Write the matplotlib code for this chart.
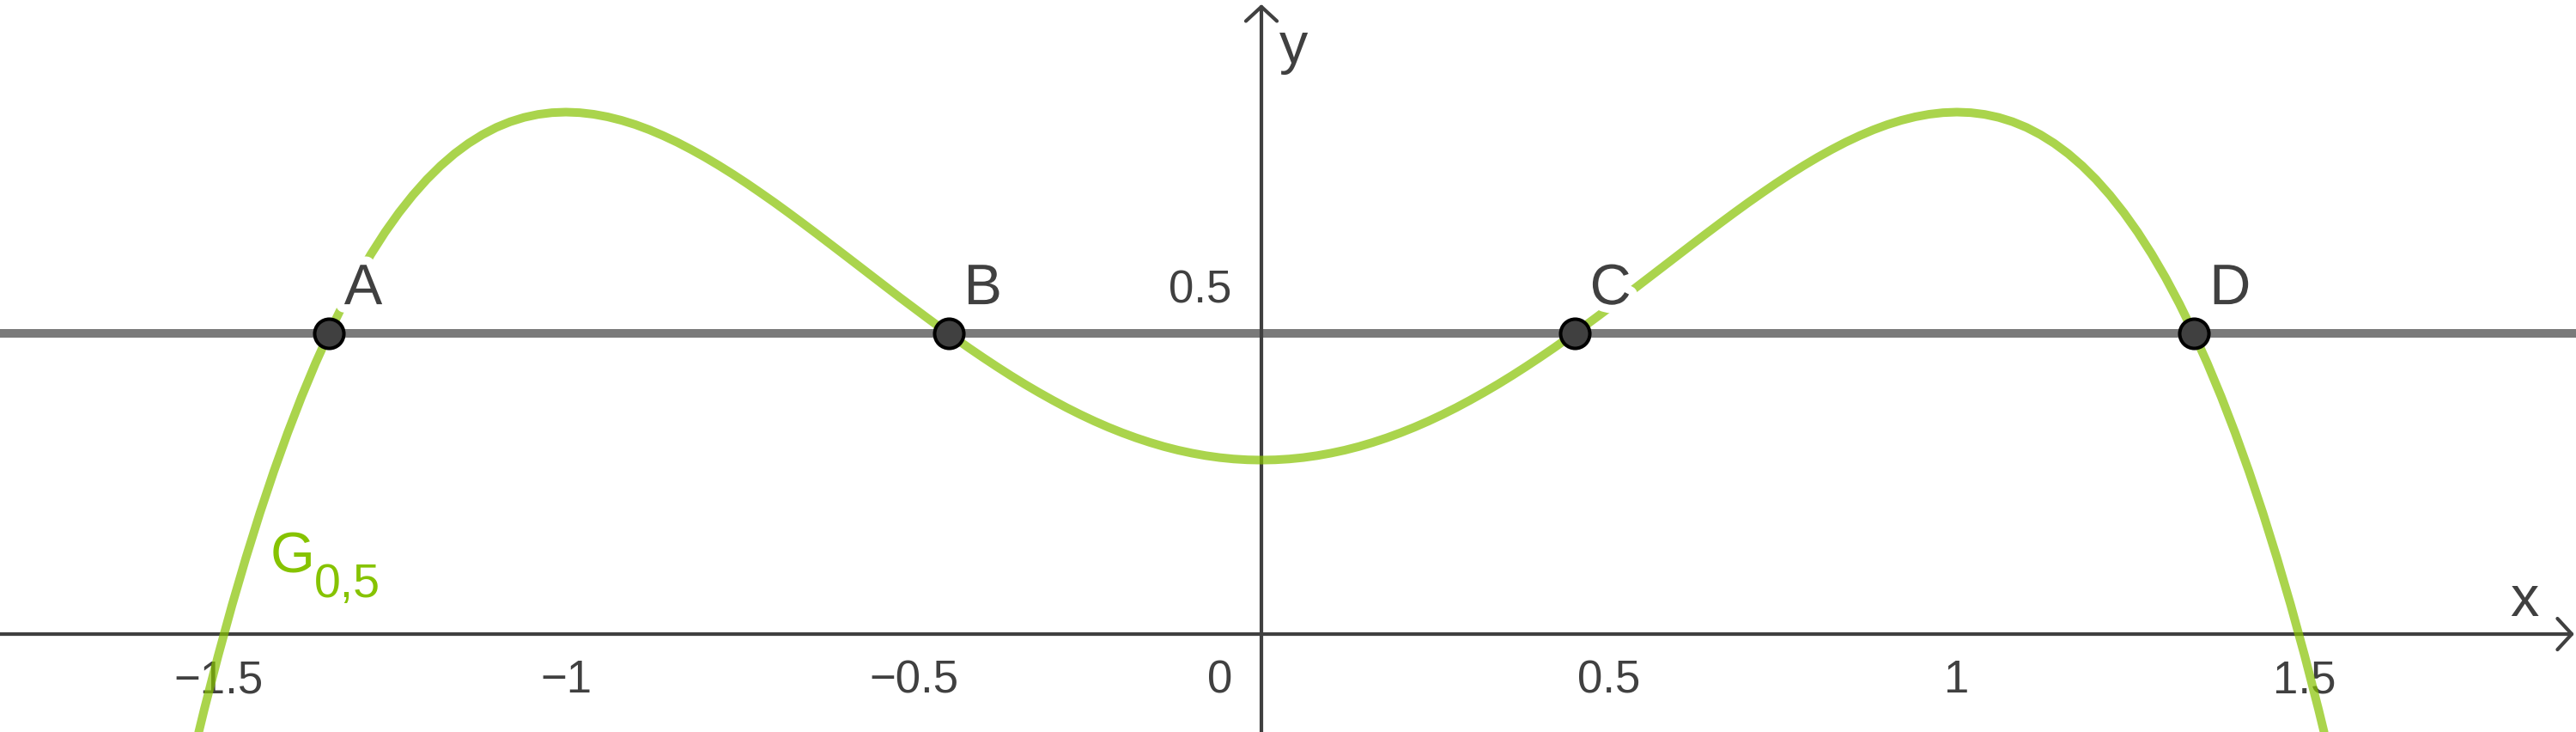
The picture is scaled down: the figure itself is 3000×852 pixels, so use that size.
import matplotlib
matplotlib.use('Agg')
import matplotlib.pyplot as plt
import matplotlib.patheffects as pe

plt.rcParams['font.family'] = ['Liberation Sans', 'DejaVu Sans']

# ---------------- data ----------------
# sample points of the graph G_0,5 (right half mirrors the left half)
curve_x = [-1.54, -1.52, -1.50, -1.48, -1.46, -1.44, -1.42, -1.40, -1.38, -1.36,
           -1.34, -1.32, -1.30, -1.28, -1.26, -1.24, -1.22, -1.20, -1.18, -1.16,
           -1.14, -1.12, -1.10, -1.08, -1.06, -1.04, -1.02, -1.00, -0.98, -0.96,
           -0.94, -0.92, -0.90, -0.88, -0.86, -0.84, -0.82, -0.80, -0.78, -0.76,
           -0.74, -0.72, -0.70, -0.68, -0.66, -0.64, -0.62, -0.60, -0.58, -0.56,
           -0.54, -0.52, -0.50, -0.48, -0.46, -0.44, -0.42, -0.40, -0.38, -0.36,
           -0.34, -0.32, -0.30, -0.28, -0.26, -0.24, -0.22, -0.20, -0.18, -0.16,
           -0.14, -0.12, -0.10, -0.08, -0.06, -0.04, -0.02, 0.00,
           0.02, 0.04, 0.06, 0.08, 0.10, 0.12, 0.14, 0.16, 0.18, 0.20,
           0.22, 0.24, 0.26, 0.28, 0.30, 0.32, 0.34, 0.36, 0.38, 0.40,
           0.42, 0.44, 0.46, 0.48, 0.50, 0.52, 0.54, 0.56, 0.58, 0.60,
           0.62, 0.64, 0.66, 0.68, 0.70, 0.72, 0.74, 0.76, 0.78, 0.80,
           0.82, 0.84, 0.86, 0.88, 0.90, 0.92, 0.94, 0.96, 0.98, 1.00,
           1.02, 1.04, 1.06, 1.08, 1.10, 1.12, 1.14, 1.16, 1.18, 1.20,
           1.22, 1.24, 1.26, 1.28, 1.30, 1.32, 1.34, 1.36, 1.38, 1.40,
           1.42, 1.44, 1.46, 1.48, 1.50, 1.52, 1.54]
curve_y = [-0.1906, -0.1086, -0.0312, 0.0415, 0.1097, 0.1737, 0.2335, 0.2892, 0.3410, 0.3891,
           0.4335, 0.4744, 0.5120, 0.5462, 0.5774, 0.6055, 0.6307, 0.6532, 0.6730, 0.6903,
           0.7051, 0.7176, 0.7280, 0.7362, 0.7424, 0.7467, 0.7492, 0.7500, 0.7492, 0.7469,
           0.7432, 0.7382, 0.7320, 0.7246, 0.7161, 0.7067, 0.6963, 0.6852, 0.6733, 0.6608,
           0.6477, 0.6340, 0.6200, 0.6055, 0.5907, 0.5757, 0.5605, 0.5452, 0.5298, 0.5144,
           0.4991, 0.4838, 0.4688, 0.4539, 0.4392, 0.4249, 0.4108, 0.3972, 0.3840, 0.3712,
           0.3589, 0.3472, 0.3360, 0.3253, 0.3153, 0.3059, 0.2972, 0.2892, 0.2819, 0.2753,
           0.2694, 0.2643, 0.2600, 0.2564, 0.2536, 0.2516, 0.2504, 0.2500,
           0.2504, 0.2516, 0.2536, 0.2564, 0.2600, 0.2643, 0.2694, 0.2753, 0.2819, 0.2892,
           0.2972, 0.3059, 0.3153, 0.3253, 0.3360, 0.3472, 0.3589, 0.3712, 0.3840, 0.3972,
           0.4108, 0.4249, 0.4392, 0.4539, 0.4688, 0.4838, 0.4991, 0.5144, 0.5298, 0.5452,
           0.5605, 0.5757, 0.5907, 0.6055, 0.6200, 0.6340, 0.6477, 0.6608, 0.6733, 0.6852,
           0.6963, 0.7067, 0.7161, 0.7246, 0.7320, 0.7382, 0.7432, 0.7469, 0.7492, 0.7500,
           0.7492, 0.7467, 0.7424, 0.7362, 0.7280, 0.7176, 0.7051, 0.6903, 0.6730, 0.6532,
           0.6307, 0.6055, 0.5774, 0.5462, 0.5120, 0.4744, 0.4335, 0.3891, 0.3410, 0.2892,
           0.2335, 0.1737, 0.1097, 0.0415, -0.0312, -0.1086, -0.1906]

level_y = 0.432
point_names = ['A', 'B', 'C', 'D']
point_x = [-1.341, -0.450, 0.450, 1.341]

xtick_values = [-1.5, -1.0, -0.5, 0.0, 0.5, 1.0, 1.5]
xtick_labels = ['\u22121.5', '\u22121', '\u22120.5', '0', '0.5', '1', '1.5']
ytick_values = [0.5]
ytick_labels = ['0.5']

curve_name = 'G'
curve_sub = '0,5'
curve_label_pos = (-1.425, 0.0877)

# ---------------- styling ----------------
W, H, DPI = 3000, 852, 100
axis_color = '#404040'
text_color = '#404040'
green = '#86c300'
level_color = '#7a7a7a'
point_fill = '#404040'

fig = plt.figure(figsize=(W / DPI, H / DPI), dpi=DPI)
ax = fig.add_axes([0, 0, 1, 1])
ax.set_xlim(-1.8136, 1.8901)
ax.set_ylim(-0.1407, 0.9111)
ax.axis('off')

# horizontal line
ax.axhline(level_y, color=level_color, lw=7.2, zorder=1)

# axes with open arrow heads
arrow_kw = dict(arrowstyle='->,head_length=1.2,head_width=1.3', lw=3,
                color=axis_color, shrinkA=0, shrinkB=0, mutation_scale=10)
ax.annotate('', xy=(0.9993, 0), xycoords=('axes fraction', 'data'),
            xytext=(0, 0), textcoords=('axes fraction', 'data'),
            arrowprops=arrow_kw, zorder=2)
ax.annotate('', xy=(0, 0.9941), xycoords=('data', 'axes fraction'),
            xytext=(0, 0), textcoords=('data', 'axes fraction'),
            arrowprops=arrow_kw, zorder=2)

# axis names
ax.annotate('x', xy=(1, 0), xycoords=('axes fraction', 'data'),
            xytext=(-60, 21), textcoords='offset pixels',
            ha='center', va='baseline', fontsize=48, color=text_color, zorder=2)
ax.annotate('y', xy=(0, 1), xycoords=('data', 'axes fraction'),
            xytext=(21, -73), textcoords='offset pixels',
            ha='left', va='baseline', fontsize=48, color=text_color, zorder=2)

# tick labels
for v, lab in zip(xtick_values, xtick_labels):
    if v == 0:
        ax.annotate(lab, xy=(v, 0), xytext=(-34, -68), textcoords='offset pixels',
                    ha='right', va='baseline', fontsize=38, color=text_color, zorder=2)
    else:
        ax.annotate(lab, xy=(v, 0), xytext=(0, -68), textcoords='offset pixels',
                    ha='center', va='baseline', fontsize=38, color=text_color, zorder=2)
for v, lab in zip(ytick_values, ytick_labels):
    ax.annotate(lab, xy=(0, v), xytext=(-35, -19), textcoords='offset pixels',
                ha='right', va='baseline', fontsize=38, color=text_color, zorder=2)

# curve
ax.plot(curve_x, curve_y, color=green, alpha=0.7, lw=7.2, zorder=3,
        solid_capstyle='butt', solid_joinstyle='round')

# curve label
ax.text(curve_label_pos[0], curve_label_pos[1], curve_name, fontsize=48,
        color=green, ha='left', va='baseline', zorder=3)
ax.annotate(curve_sub, xy=curve_label_pos, xytext=(51, -28),
            textcoords='offset pixels', fontsize=40, color=green,
            ha='left', va='baseline', zorder=3)

# point labels (white halo hides the curve behind them)
halo = [pe.withStroke(linewidth=14, foreground='white')]
for name, px in zip(point_names, point_x):
    ax.annotate(name, xy=(px, level_y), xytext=(18, 34), textcoords='offset pixels',
                ha='left', va='baseline', fontsize=48, color=text_color,
                path_effects=halo, zorder=4)

# points
ax.plot(point_x, [level_y] * len(point_x), linestyle='none', marker='o',
        markersize=24.5, markerfacecolor=point_fill, markeredgecolor='black',
        markeredgewidth=2.9, zorder=5)

fig.savefig('out.png', dpi=DPI)
